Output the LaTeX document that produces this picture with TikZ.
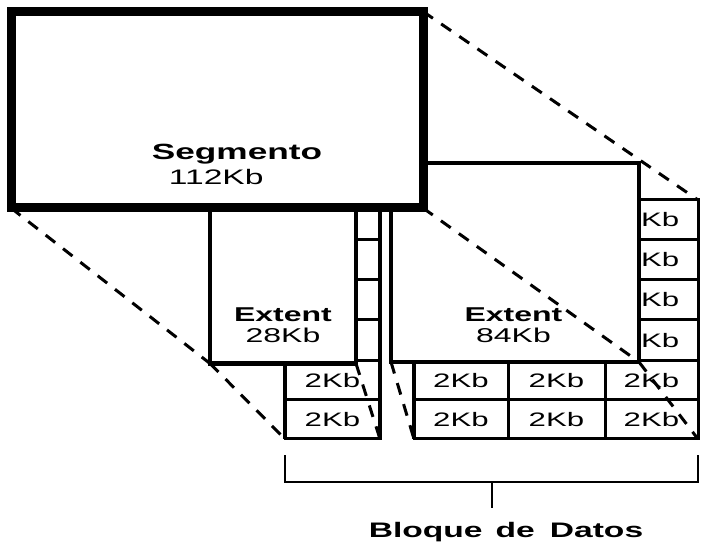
\documentclass[tikz,border=0pt]{standalone}
\usepackage{fontspec}
\setmainfont{Liberation Sans}
\newfontfamily\wf{Liberation Sans}[FakeStretch=1.6]
\begin{document}
\begin{tikzpicture}[x=1pt,y=-1pt,
  cellbox/.style={draw, fill=white, line width=3pt, inner sep=0pt, outer sep=0pt, font=\wf\fontsize{19.5}{21}\selectfont},
  extbox/.style={draw, fill=white, line width=4.5pt, inner sep=0pt, outer sep=0pt},
  segbox/.style={draw, fill=white, line width=9pt, inner sep=0pt, outer sep=0pt},
  twoline/.style={align=center, inner sep=0pt, font=\wf\fontsize{20}{20.5}\selectfont},
  boldlbl/.style={anchor=base, inner sep=0pt, font=\wf\bfseries\fontsize{20}{22}\selectfont},
  dashline/.style={line width=3pt, dash pattern=on 12pt off 10pt},
  bracketline/.style={line width=2.5pt}]
\useasboundingbox (0,0) rectangle (702,545);
% data blocks: visible ones carry their label, hidden ones are empty
\foreach \cx/\w/\n in {332.5/95/a, 461/94/b, 556.5/97/c, 651.5/93/d}
  \foreach \cy/\h/\m in {380.5/39/5, 419.5/39/6}
    \node[cellbox, minimum width=\w pt, minimum height=\h pt] (\n\m) at (\cx,\cy) {2Kb};
\foreach \cx/\w/\n in {332.5/95/a, 461/94/b, 556.5/97/c}
  \foreach \cy/\h/\m in {220/40/1, 260/40/2, 300/40/3, 340.5/41/4}
    \node[cellbox, minimum width=\w pt, minimum height=\h pt] (\n\m) at (\cx,\cy) {};
\foreach \cy/\h/\m in {220/40/1, 260/40/2, 300/40/3, 340.5/41/4}
  \node[cellbox, minimum width=93pt, minimum height=\h pt] (d\m) at (651.5,\cy) {2Kb};
\draw[line width=4.5pt] (a1.north east) -- (a6.south east);
\draw[line width=4pt] (a5.north west) -- (a6.south west);
\draw[line width=4pt] (b5.north west) -- (b6.south west);
% extents
\node[extbox, minimum width=146pt, minimum height=213.5pt] (e28) at (283,256.75) {};
\node[extbox, minimum width=248pt, minimum height=199pt] (e84) at (515,262.5) {};
\node[twoline] (e28t) at (283,325) {{\bfseries Extent}\\28Kb};
\node[twoline] (e84t) at (513.5,325) {{\bfseries Extent}\\84Kb};
% segment
\node[segbox, minimum width=412pt, minimum height=196.5pt] (seg) at (217,109.75) {};
\node[twoline, align=left, font=\wf\fontsize{21}{25}\selectfont] (segt) at (237,164)
  {{\bfseries\fontsize{22}{25}\selectfont Segmento}\\\hspace*{17pt}112Kb};
% dashed projection lines
\draw[dashline] (seg.north east) -- (d1.north east);
\draw[dashline] (seg.south west) -- (e28.south west);
\draw[dashline] (e28.south west) -- (a6.south west);
\draw[dashline] (e28.south east) -- (a6.south east);
\draw[dashline] (e84.south west) -- (b6.south west);
\draw[dashline] (seg.south east) -- (e84.south east);
\draw[dashline] (e84.south east) -- (d6.south east);
% bracket
\coordinate (brL) at (285,455);
\coordinate (brLb) at (285,482);
\coordinate (brR) at (698,455);
\coordinate (brRb) at (698,482);
\coordinate (brM) at (492,482);
\coordinate (brMb) at (492,508);
\draw[bracketline] (brL) -- (brLb) -- (brRb) -- (brR);
\draw[bracketline] (brM) -- (brMb);
\node[boldlbl, font=\wf\bfseries\fontsize{21}{22}\selectfont] (lab) at (506,537) {Bloque\hspace{13pt}de\hspace{15pt}Datos};
\end{tikzpicture}
\end{document}
